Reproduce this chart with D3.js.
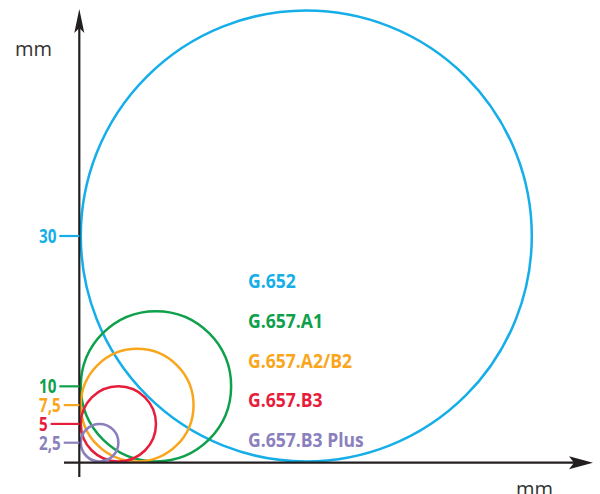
<!DOCTYPE html>
<html><head><meta charset="utf-8">
<script src="https://cdn.jsdelivr.net/npm/d3@7"></script>
<style>body{margin:0;background:#fff}svg{display:block}</style>
</head><body>
<svg id="c" width="600" height="494"></svg>
<script>
const fibers = ["G.652","G.657.A1","G.657.A2/B2","G.657.B3","G.657.B3 Plus"];
const radii = [30, 10, 7.5, 5, 2.5];
const tickLabels = ["30","10","7,5","5","2,5"];
const colors = ["#15aee9","#0fa04c","#f9a61c","#e61e3c","#8a80bd"];
const axisUnit = "mm";

const svg = d3.select("#c");
const x0 = 80.8, y0 = 461.5, k = 225.5/30;
const x = d3.scaleLinear().domain([0,30]).range([x0, x0 + 30*k]);
const y = d3.scaleLinear().domain([0,30]).range([y0, y0 - 30*k]);
const ax = x0 - 1.5, ay = y0 + 1.2;

// circles
svg.append("g").selectAll("circle").data(radii).join("circle")
  .attr("cx", d => x(d)).attr("cy", d => y(d)).attr("r", d => x(d) - x(0))
  .attr("fill","none").attr("stroke",(d,i)=>colors[i]).attr("stroke-width",2.5);

// axes
const axc = "#231f20";
svg.append("line").attr("x1",ax).attr("x2",ax).attr("y1",477).attr("y2",24)
  .attr("stroke",axc).attr("stroke-width",2.2);
svg.append("line").attr("x1",64).attr("x2",578).attr("y1",ay).attr("y2",ay)
  .attr("stroke",axc).attr("stroke-width",2.2);
svg.append("path").attr("fill",axc)
  .attr("d",`M${ax},9 L${ax+5},33 L${ax},28 L${ax-5},33Z`);
svg.append("path").attr("fill",axc)
  .attr("d",`M593,${ay} L569,${ay-6.5} L574,${ay} L569,${ay+6.5}Z`);

svg.append("text").attr("x",15).attr("y",56).text(axisUnit)
  .attr("font-family","Open Sans, sans-serif").attr("font-size",20).attr("fill","#333");
svg.append("text").attr("x",516).attr("y",496).text(axisUnit)
  .attr("font-family","Open Sans, sans-serif").attr("font-size",20).attr("fill","#333");

// tick labels
const sx = 0.8;
const tg = svg.append("g").selectAll("g").data(radii).join("g");
tg.each(function(d,i){
  const g = d3.select(this);
  const t = g.append("text").attr("x",39).attr("y",y(d)+7).text(tickLabels[i])
    .attr("font-family","Open Sans, sans-serif").attr("font-weight","bold")
    .attr("font-size",19).attr("fill",colors[i])
    .attr("transform",`translate(39,0) scale(${sx},1) translate(-39,0)`);
  const w = t.node().getComputedTextLength()*sx;
  g.append("line").attr("x1",39+w+3).attr("x2",ax).attr("y1",y(d)).attr("y2",y(d))
    .attr("stroke",colors[i]).attr("stroke-width",2.2);
});

// legend
const lx = 248, lsx = 0.9;
svg.append("g").attr("transform",`translate(${lx},0) scale(${lsx},1)`)
  .selectAll("text").data(fibers).join("text")
  .attr("x",0).attr("y",(d,i)=>288 + i*39.8).text(d=>d)
  .attr("font-family","Open Sans, sans-serif").attr("font-weight","bold")
  .attr("font-size",19.5).attr("fill",(d,i)=>colors[i]);
</script>
</body></html>
